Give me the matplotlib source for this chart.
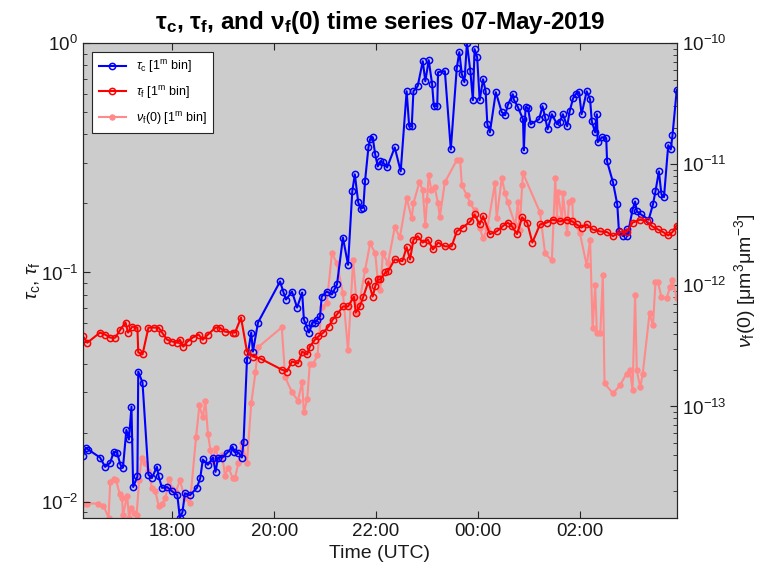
import numpy as np
import matplotlib
matplotlib.use("Agg")
import matplotlib.pyplot as plt
import matplotlib.dates as mdates
from datetime import datetime

plt.rcParams['font.family'] = ['Liberation Sans', 'DejaVu Sans']
plt.rcParams['mathtext.fontset'] = 'custom'
plt.rcParams['mathtext.rm'] = 'Liberation Sans'
plt.rcParams['mathtext.it'] = 'Liberation Sans:italic'
plt.rcParams['mathtext.bf'] = 'Liberation Sans:bold'

# tau_c (coarse mode optical depth), 1-min bins
tc_time = ["16:15", "16:18", "16:21", "16:35", "16:41", "16:47", "16:51", "16:55", "16:59", "17:02",
           "17:06", "17:09", "17:12", "17:14", "17:19", "17:20", "17:25", "17:32", "17:36", "17:42",
           "17:44", "17:48", "17:54", "18:00", "18:06", "18:09", "18:12", "18:15", "18:21", "18:29",
           "18:33", "18:36", "18:42", "18:48", "18:51", "18:54", "18:59", "19:05", "19:11", "19:13",
           "19:18", "19:22", "19:24", "19:28", "19:33", "19:35", "19:41", "20:07", "20:11", "20:14",
           "20:21", "20:27", "20:33", "20:35", "20:39", "20:41", "20:45", "20:48", "20:51", "20:54",
           "20:56", "21:02", "21:08", "21:11", "21:14", "21:21", "21:27", "21:32", "21:35", "21:39",
           "21:42", "21:45", "21:47", "21:51", "21:53", "21:56", "21:59", "22:02", "22:05", "22:08",
           "22:13", "22:22", "22:29", "22:36", "22:39", "22:42", "22:44", "22:49", "22:55", "22:58",
           "23:02", "23:06", "23:08", "23:12", "23:13", "23:21", "23:28", "23:35", "23:38", "23:41",
           "23:44", "23:47", "23:51", "23:54", "23:56", "23:59", "00:02", "00:06", "00:09", "00:11",
           "00:14", "00:21", "00:28", "00:32", "00:35", "00:41", "00:42", "00:47", "00:53", "00:54",
           "00:56", "00:59", "01:02", "01:12", "01:16", "01:19", "01:22", "01:27", "01:33", "01:36",
           "01:40", "01:45", "01:48", "01:52", "01:55", "01:59", "02:02", "02:08", "02:12", "02:14",
           "02:18", "02:20", "02:21", "02:26", "02:31", "02:32", "02:39", "02:44", "02:46", "02:51",
           "02:55", "02:56", "03:02", "03:05", "03:07", "03:12", "03:21", "03:26", "03:29", "03:33",
           "03:36", "03:39", "03:44", "03:47", "03:49", "03:54"]
tc_vals = [0.0159, 0.0172, 0.0169, 0.0156, 0.0142, 0.0148, 0.0165, 0.0164, 0.0145, 0.0141,
           0.0206, 0.0187, 0.026, 0.0116, 0.0129, 0.037, 0.0331, 0.0131, 0.0127, 0.0142,
           0.0129, 0.0115, 0.0116, 0.0111, 0.0107, 0.0085, 0.0090, 0.0109, 0.0107, 0.0115,
           0.0127, 0.0153, 0.0145, 0.0156, 0.0135, 0.0156, 0.0156, 0.0164, 0.0174, 0.0165,
           0.0164, 0.0156, 0.0183, 0.0417, 0.0547, 0.0452, 0.0605, 0.0914, 0.0818, 0.0762,
           0.0826, 0.0703, 0.0818, 0.0623, 0.0575, 0.0547, 0.0605, 0.0605, 0.0623, 0.0643,
           0.0785, 0.0826, 0.0802, 0.0843, 0.0887, 0.142, 0.108, 0.226, 0.268, 0.202,
           0.190, 0.192, 0.250, 0.351, 0.381, 0.389, 0.327, 0.290, 0.305, 0.302,
           0.287, 0.351, 0.276, 0.617, 0.434, 0.434, 0.617, 0.649, 0.834, 0.682,
           0.843, 0.662, 0.531, 0.531, 0.747, 0.755, 0.344, 0.778, 0.914, 0.732,
           0.676, 1.0, 0.755, 0.564, 0.942, 0.869, 0.564, 0.696, 0.617, 0.443,
           0.408, 0.611, 0.500, 0.485, 0.536, 0.599, 0.569, 0.526, 0.466, 0.341,
           0.526, 0.520, 0.443, 0.466, 0.531, 0.475, 0.421, 0.490, 0.443, 0.452,
           0.490, 0.434, 0.505, 0.575, 0.599, 0.611, 0.490, 0.617, 0.569, 0.456,
           0.408, 0.490, 0.370, 0.389, 0.385, 0.305, 0.247, 0.198, 0.151, 0.144,
           0.154, 0.144, 0.188, 0.204, 0.185, 0.179, 0.170, 0.198, 0.226, 0.276,
           0.219, 0.213, 0.359, 0.344, 0.396, 0.624]

# tau_f (fine mode optical depth)
tf_time = ["16:15", "16:20", "16:35", "16:41", "16:47", "16:53", "16:59", "17:05", "17:08", "17:13",
           "17:19", "17:20", "17:25", "17:32", "17:38", "17:44", "17:48", "17:54", "18:00", "18:06",
           "18:09", "18:13", "18:18", "18:24", "18:31", "18:36", "18:42", "18:51", "18:56", "19:02",
           "19:11", "19:14", "19:21", "19:28", "19:35", "19:44", "20:09", "20:15", "20:21", "20:28",
           "20:33", "20:39", "20:42", "20:48", "20:52", "20:58", "21:04", "21:09", "21:14", "21:21",
           "21:27", "21:34", "21:36", "21:41", "21:45", "21:51", "21:56", "21:59", "22:02", "22:05",
           "22:11", "22:14", "22:22", "22:31", "22:36", "22:40", "22:44", "22:49", "22:55", "23:01",
           "23:07", "23:13", "23:21", "23:29", "23:35", "23:42", "23:51", "23:56", "00:02", "00:06",
           "00:14", "00:22", "00:29", "00:35", "00:40", "00:46", "00:52", "00:58", "01:04", "01:13",
           "01:21", "01:28", "01:36", "01:45", "01:51", "01:56", "02:02", "02:08", "02:15", "02:24",
           "02:32", "02:39", "02:47", "02:55", "03:02", "03:11", "03:19", "03:25", "03:32", "03:38",
           "03:44", "03:49", "03:54"]
tf_vals = [0.0526, 0.0494, 0.0547, 0.0536, 0.052, 0.052, 0.0564, 0.0605, 0.0547, 0.0581,
           0.0575, 0.0448, 0.0439, 0.0575, 0.0575, 0.0575, 0.0547, 0.0509, 0.05, 0.0494,
           0.0509, 0.0475, 0.05, 0.052, 0.0536, 0.0509, 0.0536, 0.0575, 0.0575, 0.0552,
           0.0547, 0.0547, 0.0636, 0.0452, 0.043, 0.0421, 0.0377, 0.037, 0.0409, 0.0401,
           0.0452, 0.0439, 0.0475, 0.0509, 0.0526, 0.0547, 0.0581, 0.0623, 0.0656, 0.0711,
           0.0711, 0.0785, 0.0669, 0.0711, 0.0785, 0.0914, 0.0785, 0.0869, 0.0932, 0.0932,
           0.100, 0.101, 0.114, 0.112, 0.129, 0.114, 0.139, 0.144, 0.135, 0.139,
           0.126, 0.135, 0.130, 0.130, 0.151, 0.157, 0.167, 0.179, 0.162, 0.176,
           0.147, 0.151, 0.159, 0.165, 0.159, 0.147, 0.174, 0.165, 0.135, 0.162,
           0.165, 0.170, 0.167, 0.170, 0.167, 0.162, 0.157, 0.162, 0.154, 0.151,
           0.150, 0.144, 0.150, 0.150, 0.165, 0.170, 0.167, 0.159, 0.154, 0.150,
           0.145, 0.150, 0.160]

# nu_f(0) (fine mode volume at zero), right axis
nu_time = ["16:15", "16:20", "16:33", "16:39", "16:45", "16:47", "16:51", "16:54", "16:58", "17:01",
           "17:02", "17:07", "17:09", "17:12", "17:15", "17:18", "17:21", "17:24", "17:28", "17:32",
           "17:36", "17:40", "17:44", "17:48", "17:52", "17:56", "18:00", "18:04", "18:09", "18:15",
           "18:21", "18:28", "18:32", "18:36", "18:39", "18:42", "18:45", "18:48", "18:51", "18:54",
           "18:59", "19:02", "19:06", "19:11", "19:14", "19:18", "19:22", "19:28", "19:33", "19:38",
           "19:41", "20:09", "20:13", "20:21", "20:28", "20:33", "20:35", "20:39", "20:42", "20:46",
           "20:51", "20:56", "21:02", "21:08", "21:14", "21:21", "21:27", "21:33", "21:38", "21:47",
           "21:53", "21:59", "22:02", "22:05", "22:08", "22:14", "22:22", "22:28", "22:36", "22:42",
           "22:44", "22:51", "22:55", "22:58", "23:00", "23:02", "23:05", "23:09", "23:13", "23:15",
           "23:21", "23:35", "23:39", "23:41", "23:47", "23:51", "23:56", "00:02", "00:06", "00:11",
           "00:20", "00:22", "00:28", "00:32", "00:35", "00:44", "00:47", "00:49", "00:52", "00:53",
           "01:13", "01:19", "01:27", "01:31", "01:33", "01:34", "01:39", "01:40", "01:45", "01:47",
           "01:51", "01:52", "02:00", "02:08", "02:12", "02:15", "02:18", "02:20", "02:24", "02:27",
           "02:29", "02:39", "02:47", "02:55", "02:59", "03:02", "03:05", "03:07", "03:11", "03:14",
           "03:22", "03:26", "03:29", "03:32", "03:36", "03:42", "03:46", "03:49", "03:54"]
nu_vals = [1.58e-14, 1.58e-14, 1.58e-14, 1.52e-14, 1.21e-14, 2.36e-14, 2.54e-14, 2.45e-14, 1.91e-14, 1.74e-14,
           1.26e-14, 1.84e-14, 1.21e-14, 1.46e-14, 1.31e-14, 1.26e-14, 2.45e-14, 3.79e-14, 3.44e-14, 2.96e-14,
           2.14e-14, 2.02e-14, 1.52e-14, 1.58e-14, 1.74e-14, 2.54e-14, 2.10e-14, 1.95e-14, 2.45e-14, 1.74e-14,
           1.61e-14, 5.55e-14, 1.02e-13, 8.11e-14, 1.12e-13, 5.98e-14, 4.33e-14, 3.58e-14, 4.58e-14, 3.72e-14,
           3.94e-14, 2.69e-14, 3.13e-14, 2.59e-14, 2.59e-14, 3.44e-14, 5.04e-14, 3.44e-14, 1.06e-13, 1.91e-13,
           3.08e-13, 4.50e-13, 1.74e-13, 1.31e-13, 1.12e-13, 1.58e-13, 8.92e-14, 1.16e-13, 2.26e-13, 2.26e-13,
           2.64e-13, 6.58e-13, 7.10e-13, 1.84e-12, 1.52e-12, 8.59e-13, 2.90e-13, 1.61e-12, 5.87e-13, 1.33e-12,
           2.22e-12, 1.84e-12, 1.10e-12, 9.09e-13, 1.84e-12, 1.52e-12, 3.02e-12, 2.49e-12, 5.24e-12, 3.58e-12,
           4.76e-12, 7.10e-12, 6.10e-12, 3.13e-12, 5.04e-12, 8.11e-12, 6.10e-12, 6.46e-12, 4.76e-12, 3.65e-12,
           7.10e-12, 1.08e-11, 1.08e-11, 6.70e-12, 5.54e-12, 4.76e-12, 4.17e-12, 2.96e-12, 2.45e-12, 2.96e-12,
           6.97e-12, 3.58e-12, 7.66e-12, 5.75e-12, 4.85e-12, 3.13e-12, 4.85e-12, 2.85e-12, 6.70e-12, 8.43e-12,
           4.01e-12, 1.84e-12, 1.61e-12, 7.66e-12, 3.58e-12, 5.87e-12, 3.44e-12, 5.75e-12, 2.69e-12, 4.85e-12,
           5.04e-12, 3.44e-12, 2.69e-12, 1.46e-12, 2.36e-12, 4.41e-13, 1.0e-12, 4.01e-13, 4.01e-13, 1.21e-12,
           1.55e-13, 1.28e-13, 1.49e-13, 1.87e-13, 1.99e-13, 1.36e-13, 8.27e-13, 1.99e-13, 1.44e-13, 1.87e-13,
           5.87e-13, 4.67e-13, 1.06e-12, 1.06e-12, 7.96e-13, 7.81e-13, 9.62e-13, 1.10e-12, 7.81e-13]


def to_dt(s):
    h, m = map(int, s.split(':'))
    day = 7 if h >= 12 else 8
    return datetime(2019, 5, day, h, m)


tc_t = [to_dt(s) for s in tc_time]
tf_t = [to_dt(s) for s in tf_time]
nu_t = [to_dt(s) for s in nu_time]

bg = '#cccccc'
axcol = '#262626'

fig = plt.figure(figsize=(7.69, 5.83), dpi=100)
ax1 = fig.add_axes([0.108, 0.1115, 0.772, 0.8145])
ax2 = ax1.twinx()

# pink series sits behind the tau lines
ax1.set_zorder(ax2.get_zorder() + 1)
ax1.patch.set_visible(False)
ax2.patch.set_visible(True)
ax2.set_facecolor(bg)

l3, = ax2.plot(nu_t, nu_vals, '-o', color='#ff8a8a', lw=1.5, ms=3.8, mfc='#ff8a8a', mew=0.8)
l1, = ax1.plot(tc_t, tc_vals, '-o', color='#0000ff', lw=1.5, ms=4.5, mfc='none', mew=1.1)
l2, = ax1.plot(tf_t, tf_vals, '-o', color='#ff0000', lw=1.5, ms=4.5, mfc='none', mew=1.1)

ax1.set_yscale('log')
ax2.set_yscale('log')
ax1.set_ylim(0.0085, 1.0)
ax2.set_ylim(1.2e-14, 1e-10)
ax1.set_xlim(to_dt("16:15"), to_dt("03:54"))

ax1.xaxis.set_major_locator(mdates.HourLocator(byhour=[18, 20, 22, 0, 2]))
ax1.xaxis.set_major_formatter(mdates.DateFormatter('%H:%M'))

for ax in (ax1, ax2):
    for sp in ax.spines.values():
        sp.set_color(axcol)
        sp.set_linewidth(0.8)
    ax.tick_params(which='both', direction='in', colors=axcol, labelcolor='#1a1a1a',
                   labelsize=13.5)
    ax.tick_params(which='major', length=5)
    ax.tick_params(which='minor', length=3)
ax1.tick_params(axis='x', top=True)
ax1.tick_params(axis='y', which='both', right=False)
ax2.tick_params(axis='y', which='both', left=False)
ax2.xaxis.set_visible(False)

ax1.set_xlabel('Time (UTC)', fontsize=14, color='#1a1a1a')
ax1.set_ylabel(r'$\tau_\mathrm{c}$, $\tau_\mathrm{f}$', fontsize=14, color='#1a1a1a', labelpad=-1)
ax2.set_ylabel(r'$\nu_\mathrm{f}$(0) [$\mathrm{\mu m^3 \mu m^{-3}}$]', fontsize=14, color='#1a1a1a')
ax1.set_title(r'$\mathbf{\tau_{c}}$, $\mathbf{\tau_{f}}$, and $\mathbf{\nu_{f}}$(0) time series 07-May-2019',
              fontsize=17.5, fontweight='bold', pad=10)

leg = ax1.legend([l1, l2, l3],
                 [r'$\tau_\mathrm{c}$ [1$^\mathrm{m}$ bin]', r'$\tau_\mathrm{f}$ [1$^\mathrm{m}$ bin]',
                  r'$\nu_\mathrm{f}$(0) [1$^\mathrm{m}$ bin]'],
                 loc='upper left', fontsize=9, frameon=True, fancybox=False,
                 framealpha=1, edgecolor=axcol, handlelength=2.2, borderpad=0.5,
                 labelspacing=0.7, bbox_to_anchor=(0.005, 0.995))
leg.get_frame().set_linewidth(0.8)

fig.savefig('out.png', dpi=100)
